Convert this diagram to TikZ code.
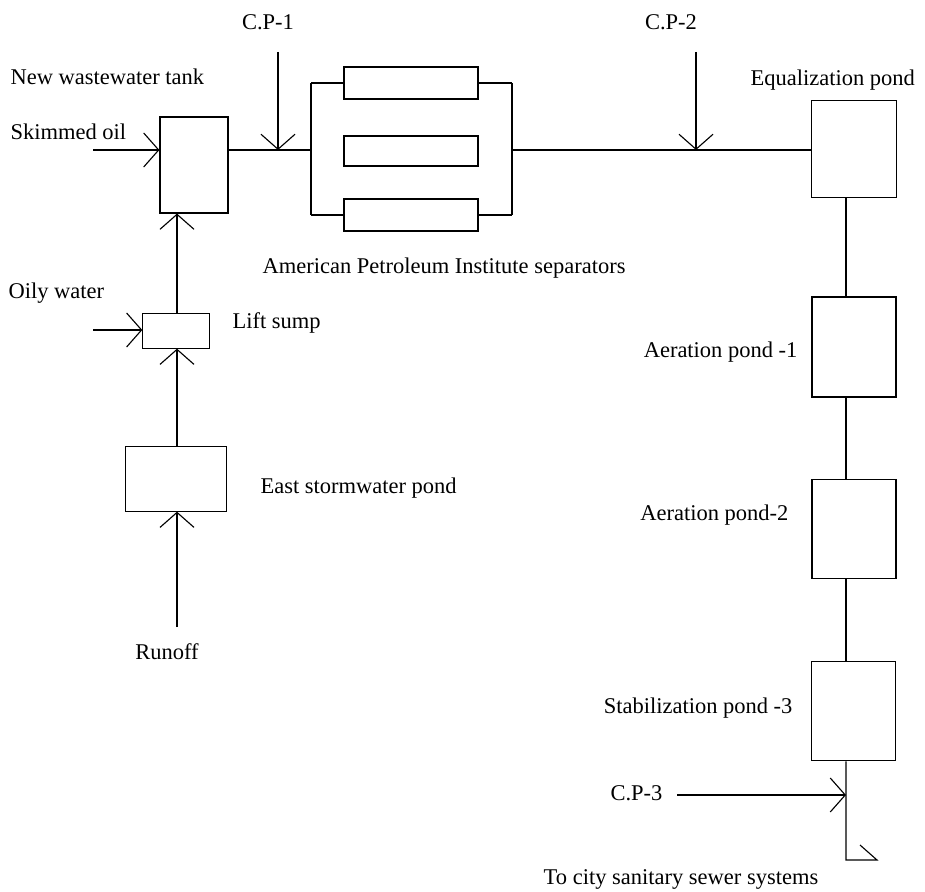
\documentclass[tikz,border=0pt]{standalone}
\usepackage{fontspec}
\setmainfont{Liberation Serif}
\usetikzlibrary{arrows.meta, calc}

\begin{document}
\begin{tikzpicture}[>={Straight Barb[length=0.375cm, width=0.85cm]}, line width=0.8pt,
      unit/.style={draw, rectangle, inner sep=0pt},
      feed/.style={->},
      label_text/.style={inner sep=0pt, font=\fontsize{16}{19}\selectfont}
  ]
  \useasboundingbox (0,0) rectangle (23.125,22.275);

  % Define the treatment units
  \node[unit, minimum width=1.7cm, minimum height=2.4cm] (tank) at (4.85, 18.15) {};
  \node[unit, minimum width=1.675cm, minimum height=0.875cm] (lift) at (4.41, 14.01) {};
  \node[unit, minimum width=2.525cm, minimum height=1.625cm] (storm) at (4.41, 10.31) {};
  \node[unit, minimum width=3.35cm, minimum height=0.8cm] (sepA) at (10.275, 20.2) {};
  \node[unit, minimum width=3.35cm, minimum height=0.75cm] (sepB) at (10.275, 18.5) {};
  \node[unit, minimum width=3.35cm, minimum height=0.8cm] (sepC) at (10.275, 16.9) {};
  \node[unit, minimum width=2.125cm, minimum height=2.425cm] (eq) at (21.36, 18.56) {};
  \node[unit, minimum width=2.1cm, minimum height=2.5cm] (aer1) at (21.35, 13.6) {};
  \node[unit, minimum width=2.1cm, minimum height=2.475cm] (aer2) at (21.35, 9.06) {};
  \node[unit, minimum width=2.1cm, minimum height=2.475cm] (stab) at (21.33, 4.49) {};

  % Define coordinates for the pipe runs
  \coordinate (colL) at (4.425, 18.525);
  \coordinate (colR) at (21.15, 18.525);
  \coordinate (split) at (7.775, 18.525);
  \coordinate (merge) at (12.8, 18.525);
  \coordinate (skim) at (2.325, 18.525);
  \coordinate (oily) at (2.325, 14.025);
  \coordinate (runoff) at (4.425, 6.6);
  \coordinate (cp1) at (6.95, 20.975);
  \coordinate (cp2) at (17.4, 20.975);
  \coordinate (cp3) at (16.925, 2.4);
  \coordinate (outlet) at (21.15, 0.775);
  \coordinate (outend) at (21.925, 0.775);
  \coordinate (barb) at (21.5, 1.15);

  % Draw the inflows on the left
  \draw[feed] (skim) -- (tank.west |- skim);
  \draw[feed] (oily) -- (lift.west |- oily);
  \draw[feed] (runoff) -- (storm.south -| colL);
  \draw[feed] (storm.north -| colL) -- (lift.south -| colL);
  \draw[feed] (lift.north -| colL) -- (tank.south -| colL);

  % Draw the separators in parallel
  \draw (tank.east |- split) -- (split);
  \draw (split |- sepA.west) -- (sepA.west);
  \draw (split |- sepC.west) -- (sepC.west);
  \draw (split |- sepA.west) -- (split |- sepC.west);
  \draw (sepA.east) -- (merge |- sepA.east);
  \draw (sepC.east) -- (merge |- sepC.east);
  \draw (merge |- sepA.east) -- (merge |- sepC.east);
  \draw (merge) -- (eq.west |- merge);

  % Draw the checkpoints
  \draw[feed] (cp1) -- (cp1 |- split);
  \draw[feed] (cp2) -- (cp2 |- merge);
  \draw[feed] (cp3) -- (cp3 -| colR);

  % Draw the pond chain
  \draw (eq.south -| colR) -- (aer1.north -| colR);
  \draw (aer1.south -| colR) -- (aer2.north -| colR);
  \draw (aer2.south -| colR) -- (stab.north -| colR);
  \draw (stab.south -| colR) -- (outlet) -- (outend) -- (barb);

  % Label the units and streams
  \node[label_text] (lcp1) at (6.7, 21.725) {C.P-1};
  \node[label_text] (lcp2) at (16.775, 21.725) {C.P-2};
  \node[label_text, anchor=east] (lcp3) at (16.575, 2.45) {C.P-3};
  \node[label_text, anchor=west] (ltank) at (0.25, 20.35) {New wastewater tank};
  \node[label_text, anchor=west] (lskim) at (0.25, 18.975) {Skimmed oil};
  \node[label_text, anchor=west] (loily) at (0.2, 14.95) {Oily water};
  \node[label_text, anchor=west] (llift) at (5.8, 14.2) {Lift sump};
  \node[label_text, anchor=west] (lstorm) at (6.5, 10.075) {East stormwater pond};
  \node[label_text] (lrunoff) at (4.175, 5.975) {Runoff};
  \node[label_text, anchor=west] (lsep) at (6.55, 15.575) {American Petroleum Institute separators};
  \node[label_text, anchor=west] (leq) at (18.75, 20.275) {Equalization pond};
  \node[label_text, anchor=east] (laer1) at (19.95, 13.475) {Aeration pond -1};
  \node[label_text, anchor=east] (laer2) at (19.725, 9.4) {Aeration pond-2};
  \node[label_text, anchor=east] (lstab) at (19.825, 4.575) {Stabilization pond -3};
  \node[label_text] (lcity) at (17.025, 0.3) {To city sanitary sewer systems};

\end{tikzpicture}
\end{document}
